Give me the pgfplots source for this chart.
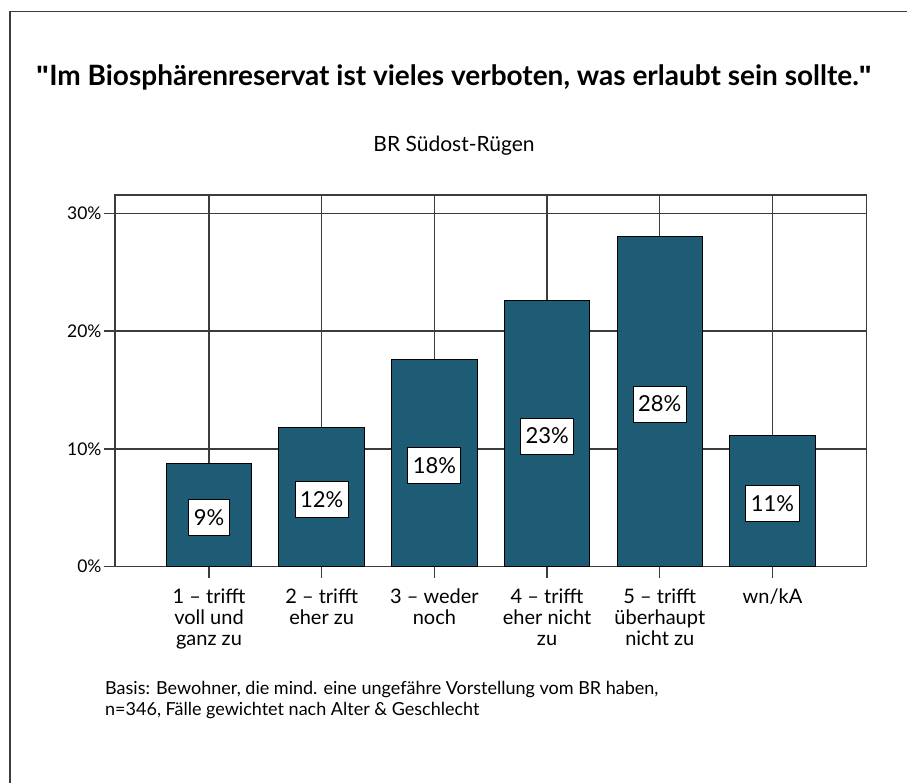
\documentclass[border=0pt]{standalone}
\usepackage{pgfplots}
\pgfplotsset{compat=1.18}
\usepackage{pgfplotstable}
\usepackage{fontspec}
\setmainfont{Lato}
\newfontfamily\qfont{Liberation Sans}
\definecolor{barblue}{RGB}{30,91,116}
\definecolor{gridgray}{RGB}{60,60,60}
\pgfplotstableread{
x v lab
0 8.72 9
1 11.83 12
2 17.55 18
3 22.58 23
4 28.00 28
5 11.12 11
}\data
\begin{document}
\begin{tikzpicture}
\path[use as bounding box, fill=white] (0pt,0pt) rectangle (907pt,783pt);
\draw[line width=1.2pt, gridgray] (10pt,0pt) -- (10pt,771.5pt) -- (907pt,771.5pt);
\node[font=\bfseries\fontsize{28}{32}\selectfont] at (454pt,706pt) {{\qfont\bfseries\symbol{34}}Im Biosphärenreservat ist vieles verboten, was erlaubt sein sollte.{\qfont\bfseries\symbol{34}}};
\node[font=\fontsize{21}{24}\selectfont] at (454pt,637pt) {BR Südost-Rügen};
\node[font=\fontsize{18}{21}\selectfont, anchor=north west, align=left, inner sep=0pt] at (105pt,102pt) {Basis: Bewohner, die mind. eine ungefähre Vorstellung vom BR haben,\\n=346, Fälle gewichtet nach Alter \& Geschlecht};
\begin{axis}[
  at={(115pt,216.3pt)}, anchor=south west,
  scale only axis, width=751.7pt, height=371.7pt,
  xmin=-0.834, xmax=5.836, ymin=0, ymax=31.55,
  xtick=data,
  xticklabels={{1 – trifft\\voll und\\ganz zu},{2 – trifft\\eher zu},{3 – weder\\noch},{4 – trifft\\eher nicht\\zu},{5 – trifft\\überhaupt\\nicht zu},{wn/kA}},
  ytick={0,10,20,30},
  yticklabel={\pgfmathprintnumber{\tick}\%},
  /pgf/number format/assume math mode=true,
  tick pos=left, tick align=outside, major tick length=11pt,
  xmajorgrids, ymajorgrids,
  grid style={gridgray, line width=1.4pt},
  axis line style={gridgray, line width=1.4pt},
  tick style={gridgray, line width=1.4pt},
  xticklabel style={align=center, font=\fontsize{20}{21}\selectfont, yshift=-8pt},
  yticklabel style={font=\fontsize{17.5}{19}\selectfont, xshift=1pt},
]
\addplot[ybar, bar width=85.5pt, bar shift=0pt, fill=barblue, draw=black, line width=1pt] table[x=x, y=v]{\data};
\addplot[draw=none, mark=none, nodes near coords={\pgfplotspointmeta\%}, point meta=explicit symbolic,
  every node near coord/.style={anchor=center, fill=white, draw=black, line width=1pt, inner xsep=5pt, minimum height=36pt, font=\fontsize{22}{24}\selectfont}]
  table[x=x, y expr=\thisrow{v}/2-0.2, meta=lab]{\data};
\end{axis}
\end{tikzpicture}
\end{document}
